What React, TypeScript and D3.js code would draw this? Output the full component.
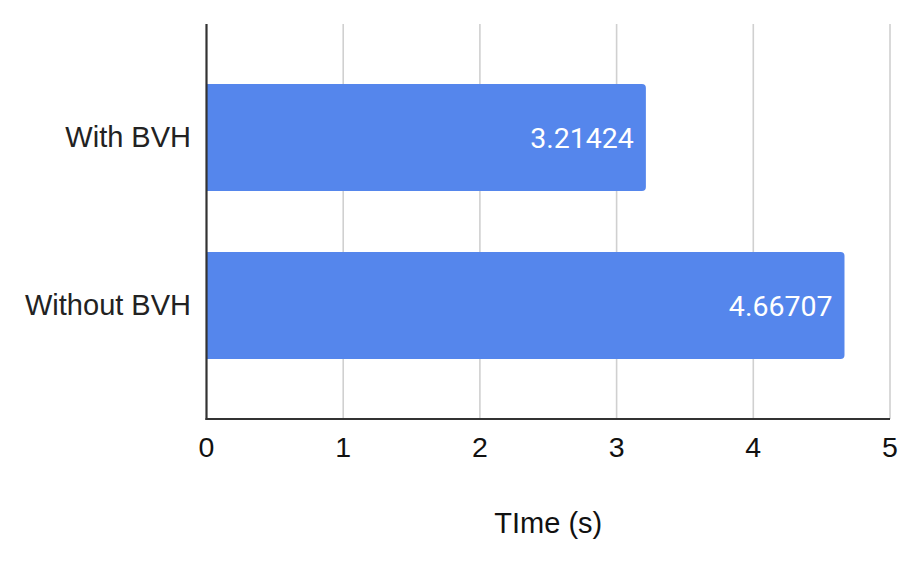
import React from "react";
import * as d3 from "d3";

const categories = ["With BVH", "Without BVH"];
const values = [3.21424, 4.66707];
const valueLabels = ["3.21424", "4.66707"];
const xTicks = [0, 1, 2, 3, 4, 5];
const xTitle = "TIme (s)";

const W = 912;
const H = 562;
const left = 206.5;
const right = 890;
const top = 24;
const bottom = 419;

export default function App() {
  const x = d3.scaleLinear().domain([0, 5]).range([left, right]);
  const y = d3
    .scaleBand<string>()
    .domain(categories)
    .range([53.8, 389.2])
    .paddingInner(0.363)
    .paddingOuter(0.18);
  const bw = y.bandwidth();
  const r = 4;
  const barPath = (v: number, y0: number) => {
    const x0 = x(0);
    const x1 = x(v);
    const p = d3.path();
    p.moveTo(x0, y0);
    p.lineTo(x1 - r, y0);
    p.quadraticCurveTo(x1, y0, x1, y0 + r);
    p.lineTo(x1, y0 + bw - r);
    p.quadraticCurveTo(x1, y0 + bw, x1 - r, y0 + bw);
    p.lineTo(x0, y0 + bw);
    p.closePath();
    return p.toString();
  };
  const armo = "Arial, 'Liberation Sans', Helvetica, sans-serif";
  return (
    <svg
      width={W}
      height={H}
      style={{ position: "absolute", left: 0, top: 0, background: "#fff" }}
    >
      {xTicks.slice(1).map((t) => (
        <line
          key={t}
          x1={x(t)}
          x2={x(t)}
          y1={top}
          y2={bottom}
          stroke="#d0d0d0"
          strokeWidth={1.6}
        />
      ))}
      {categories.map((c, i) => (
        <g key={c}>
          <path d={barPath(values[i], y(c)!)} fill="#5586EC" />
          <text
            x={x(values[i]) - 12}
            y={y(c)! + bw / 2}
            dy="0.36em"
            textAnchor="end"
            fill="#fff"
            fontFamily="Roboto, sans-serif"
            fontSize={28.5}
          >
            {valueLabels[i]}
          </text>
          <text
            x={191}
            y={y(c)! + bw / 2}
            dy="0.33em"
            textAnchor="end"
            fill="#222"
            fontFamily={armo}
            fontSize={29}
          >
            {c}
          </text>
        </g>
      ))}
      <line x1={x(0)} x2={x(0)} y1={top} y2={bottom + 1} stroke="#333" strokeWidth={2.2} />
      <line x1={x(0) - 1} x2={right} y1={bottom} y2={bottom} stroke="#333" strokeWidth={2.2} />
      {xTicks.map((t) => (
        <text
          key={t}
          x={x(t)}
          y={457}
          textAnchor="middle"
          fill="#111"
          fontFamily={armo}
          fontSize={28.5}
        >
          {t}
        </text>
      ))}
      <text
        x={(left + right) / 2}
        y={533}
        textAnchor="middle"
        fill="#111"
        fontFamily={armo}
        fontSize={29}
      >
        {xTitle}
      </text>
    </svg>
  );
}
